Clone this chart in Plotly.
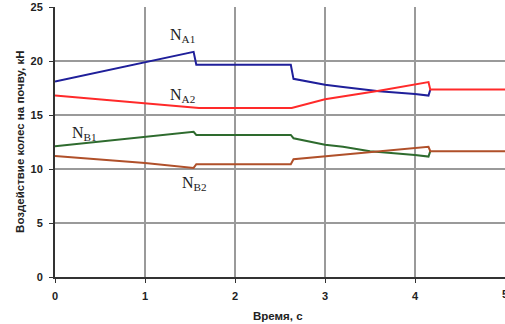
import plotly.graph_objects as go

# Time axis values and series
t_na1 = [0, 0.5, 1.0, 1.54, 1.57, 2.0, 2.62, 2.65, 2.8, 3.0, 3.2, 3.6, 4.0, 4.15, 4.17]
na1 = [18.1, 19.0, 19.9, 20.85, 19.65, 19.65, 19.65, 18.35, 18.1, 17.8, 17.6, 17.2, 16.95, 16.8, 17.35]

t_na2 = [0, 1.0, 1.55, 1.6, 2.63, 3.0, 3.6, 4.15, 4.17, 5]
na2 = [16.8, 16.1, 15.75, 15.65, 15.65, 16.45, 17.25, 18.05, 17.35, 17.35]

t_nb1 = [0, 1.0, 1.54, 1.57, 2.62, 2.65, 2.8, 3.0, 3.2, 3.5, 4.0, 4.15, 4.17]
nb1 = [12.1, 13.0, 13.45, 13.15, 13.15, 12.85, 12.6, 12.25, 12.05, 11.65, 11.3, 11.15, 11.65]

t_nb2 = [0, 1.0, 1.54, 1.57, 2.62, 2.65, 4.15, 4.17, 5]
nb2 = [11.2, 10.55, 10.1, 10.45, 10.45, 10.9, 12.05, 11.65, 11.65]

x_ticks = [0, 1, 2, 3, 4, 5]
y_ticks = [0, 5, 10, 15, 20, 25]

labels = ["N<sub>A1</sub>", "N<sub>A2</sub>", "N<sub>B1</sub>", "N<sub>B2</sub>"]
label_x = [1.26, 1.26, 0.17, 1.39]
label_y = [22.4, 16.85, 13.3, 8.7]

x_title = "Время, с"
y_title = "Воздействие колес на почву, кН"

fig = go.Figure()
series = [
    (t_na1, na1, "#1f1f9a"),
    (t_nb1, nb1, "#2e6b2e"),
    (t_na2, na2, "#ff2a2a"),
    (t_nb2, nb2, "#b0502a"),
]
for tx, ty, col in series:
    fig.add_trace(go.Scatter(x=tx, y=ty, mode="lines",
                             line=dict(color=col, width=2), showlegend=False))

for txt, lx, ly in zip(labels, label_x, label_y):
    fig.add_annotation(x=lx, y=ly, text=txt, showarrow=False, xanchor="left",
                       yanchor="middle",
                       font=dict(family="Liberation Serif, Times New Roman, serif",
                                 size=16, color="#222222"))

title_font = dict(family="Liberation Sans, Arial, sans-serif", size=11.5,
                  color="#222222", weight="bold")
fig.add_annotation(x=0.496, y=-0.145, xref="paper", yref="paper", text=x_title,
                   showarrow=False, xanchor="center", yanchor="middle",
                   font=title_font)
fig.add_annotation(x=-0.078, y=0.50, xref="paper", yref="paper", text=y_title,
                   showarrow=False, textangle=-90, xanchor="center", yanchor="middle",
                   font=title_font)

axis_font = dict(family="Liberation Sans, Arial, sans-serif", size=11,
                 color="#222222", weight="bold")

# the last x tick label sits on the right edge and is partly cut off
x_tick_labels = [str(v) for v in x_ticks]
fig.add_annotation(x=x_ticks[-1], y=0, yref="y", text=x_tick_labels[-1],
                   showarrow=False, xanchor="center", yanchor="top", yshift=-9,
                   font=axis_font)

fig.update_layout(
    width=505, height=324,
    margin=dict(l=55, r=0, t=7, b=47),
    paper_bgcolor="white", plot_bgcolor="white",
    template="none",
    xaxis=dict(range=[0, 5], tickvals=x_ticks[:-1], ticktext=x_tick_labels[:-1],
               showgrid=True, gridcolor="#9a9a9a",
               gridwidth=1.5, zeroline=False, showline=True, linecolor="#333333",
               linewidth=2, ticks="outside", ticklen=4, tickcolor="#333333",
               tickfont=axis_font, automargin=False, ticklabelstandoff=4),
    yaxis=dict(range=[0, 25], tickvals=y_ticks, showgrid=True, gridcolor="#9a9a9a",
               gridwidth=1.5, zeroline=False, showline=True, linecolor="#333333",
               linewidth=2, ticks="outside", ticklen=4, tickcolor="#333333",
               tickfont=axis_font, automargin=False, ticklabelstandoff=4),
)

fig.write_html("out.html")
